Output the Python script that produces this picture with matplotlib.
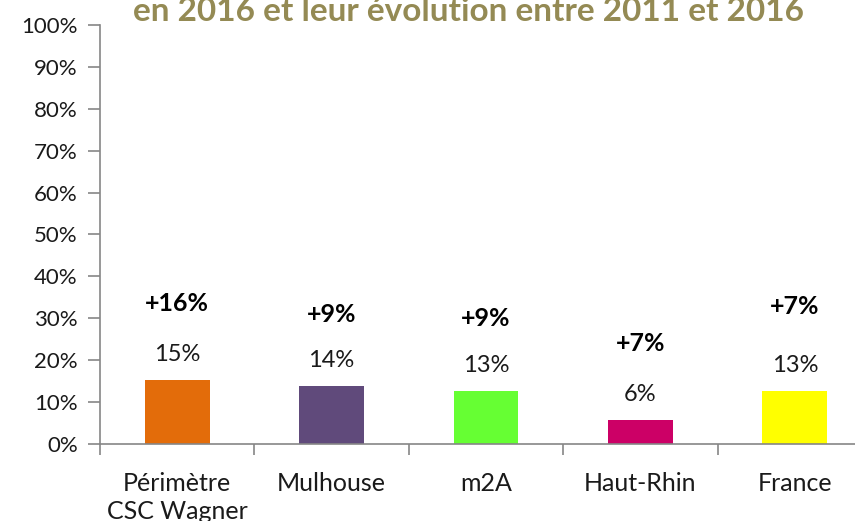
import matplotlib.pyplot as plt
from matplotlib.ticker import FixedLocator, PercentFormatter

plt.rcParams['font.family'] = ['Lato', 'DejaVu Sans']

# données
categories = ["Périmètre\nCSC Wagner", "Mulhouse", "m2A", "Haut-Rhin", "France"]
valeurs = [15.2, 13.8, 12.6, 5.7, 12.6]
etiquettes = ["15%", "14%", "13%", "6%", "13%"]
evolutions = ["+16%", "+9%", "+9%", "+7%", "+7%"]
evol_y = [33.6, 31.0, 30.0, 24.1, 32.9]
couleurs = ['#E36C0A', '#604A7B', '#66FF33', '#CC0066', '#FFFF00']

fig = plt.figure(figsize=(8.55, 5.21), dpi=100)
ax = fig.add_axes([100/855, 1-444/521, 772/855, 419/521])

x = [i + 0.5 for i in range(len(categories))]
ax.bar(x, valeurs, width=0.42, color=couleurs)

for xi, v, lab, ev, ey in zip(x, valeurs, etiquettes, evolutions, evol_y):
    ax.text(xi, v + 6.2, lab, ha='center', va='center', fontsize=17, color='#1a1a1a')
    ax.text(xi, ey, ev, ha='center', va='center', fontsize=18, fontweight='bold', color='black')

ax.set_xlim(0, 5)
ax.set_ylim(0, 100)
ax.set_yticks(range(0, 101, 10))
ax.yaxis.set_major_formatter(PercentFormatter(decimals=0))
ax.xaxis.set_major_locator(FixedLocator(range(0, 6)))
ax.xaxis.set_minor_locator(FixedLocator(x))
ax.set_xticklabels([])
ax.set_xticklabels(categories, minor=True, linespacing=1.3)

for s in ['top', 'right']:
    ax.spines[s].set_visible(False)
for s in ['left', 'bottom']:
    ax.spines[s].set_color('#868686')
    ax.spines[s].set_linewidth(1.2)
ax.tick_params(axis='y', length=9, width=1.2, color='#868686', labelsize=16, pad=7, labelcolor='#1a1a1a')
ax.tick_params(axis='x', which='major', length=8, width=1.2, color='#868686')
ax.tick_params(axis='x', which='minor', length=0, labelsize=18, pad=20, labelcolor='#1a1a1a')

fig.text(0.548, 1-21/521, "en 2016 et leur évolution entre 2011 et 2016",
         ha='center', va='baseline', fontsize=24, fontweight='bold', color='#948A54')

fig.savefig('out.png', dpi=100)
